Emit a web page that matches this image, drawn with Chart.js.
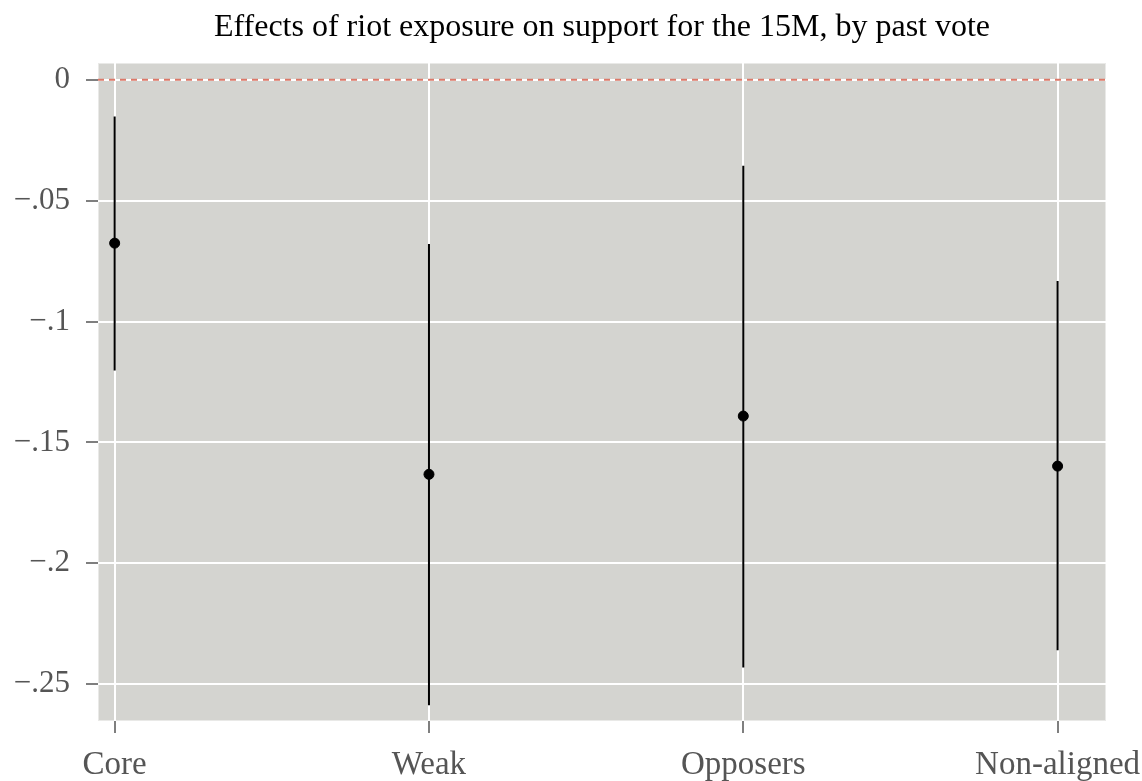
<!DOCTYPE html>
<html>
<head>
<meta charset="utf-8">
<script src="https://cdn.jsdelivr.net/npm/chart.js@4.4.1/dist/chart.umd.min.js"></script>
<style>
  html, body { margin: 0; padding: 0; background: #fff; }
  #wrap { width: 1142px; height: 781px; }
</style>
</head>
<body>
<div id="wrap"><canvas id="effects-chart"></canvas></div>
<script>
// estimates
var categories = ["Core", "Weak", "Opposers", "Non-aligned"];
var pointEst = [-0.0676, -0.1632, -0.1391, -0.1598];
var ciUpper = [-0.0152, -0.0679, -0.0356, -0.0832];
var ciLower = [-0.1203, -0.2587, -0.2431, -0.2359];
var yTicks = [0, -0.05, -0.1, -0.15, -0.2, -0.25];
var yTickLabels = ["0", "\u2212.05", "\u2212.1", "\u2212.15", "\u2212.2", "\u2212.25"];

var xMin = 0.947, xMax = 4.154;
var serif = "'Liberation Serif', 'DejaVu Serif', serif";

var ciSets = categories.map(function (c, i) {
    return {
        type: 'line',
        data: [{x: i + 1, y: ciUpper[i]}, {x: i + 1, y: ciLower[i]}],
        borderColor: "#000",
        borderWidth: 2,
        pointRadius: 0,
        fill: false
    };
});

var plotBg = {
    id: 'plotBg',
    beforeDraw: function (chart) {
        var a = chart.chartArea, ctx = chart.ctx;
        ctx.save();
        ctx.fillStyle = "#d4d4d0";
        ctx.fillRect(a.left, a.top, a.right - a.left, a.bottom - a.top);
        ctx.strokeStyle = "#e9e9e7";
        ctx.lineWidth = 1;
        ctx.strokeRect(a.left + 0.5, a.top + 0.5, a.right - a.left - 1, a.bottom - a.top - 1);
        ctx.restore();
    }
};

new Chart(document.getElementById("effects-chart"), {
    type: 'scatter',
    data: {
        datasets: [
            {
                type: 'line',
                data: [{x: xMin, y: 0}, {x: xMax, y: 0}],
                borderColor: "#dc7868",
                borderWidth: 2,
                borderDash: [6, 5],
                pointRadius: 0,
                fill: false
            }
        ].concat(ciSets).concat([
            {
                data: pointEst.map(function (v, i) { return {x: i + 1, y: v}; }),
                backgroundColor: "#000",
                borderColor: "#000",
                pointRadius: 5,
                pointHoverRadius: 5
            }
        ])
    },
    options: {
        responsive: true,
        maintainAspectRatio: false,
        animation: false,
        layout: { padding: { left: 0, right: 36, top: 0, bottom: 0 } },
        plugins: {
            legend: { display: false },
            tooltip: { enabled: false },
            title: {
                display: true,
                fullSize: false,
                text: "Effects of riot exposure on support for the 15M, by past vote",
                color: "#000",
                font: { family: serif, size: 32, weight: 'normal' },
                padding: { top: 8, bottom: 16.6 }
            }
        },
        scales: {
            x: {
                type: 'linear',
                min: xMin,
                max: xMax,
                afterBuildTicks: function (scale) {
                    scale.ticks = categories.map(function (c, i) { return {value: i + 1}; });
                },
                afterFit: function (scale) {
                    scale.height = 60;
                    scale.paddingLeft = 0;
                    scale.paddingRight = 0;
                },
                ticks: {
                    callback: function (v) { return categories[v - 1]; },
                    color: "#555",
                    font: { family: serif, size: 33 },
                    padding: 13,
                    maxRotation: 0,
                    autoSkip: false
                },
                grid: { color: "#fff", lineWidth: 2, tickColor: "#555", tickLength: 12, tickWidth: 1.5 },
                border: { display: false }
            },
            y: {
                min: -0.2652,
                max: 0.0069,
                afterBuildTicks: function (scale) {
                    scale.ticks = yTicks.map(function (v) { return {value: v}; });
                },
                afterFit: function (scale) {
                    scale.width = 98;
                    scale.paddingTop = 0;
                    scale.paddingBottom = 0;
                },
                ticks: {
                    callback: function (v) { return yTickLabels[yTicks.indexOf(v)]; },
                    color: "#555",
                    font: { family: serif, size: 31 },
                    padding: 16
                },
                grid: { color: "#fff", lineWidth: 2, tickColor: "#555", tickLength: 12, tickWidth: 1.5 },
                border: { display: false }
            }
        }
    },
    plugins: [plotBg]
});
</script>
</body>
</html>
